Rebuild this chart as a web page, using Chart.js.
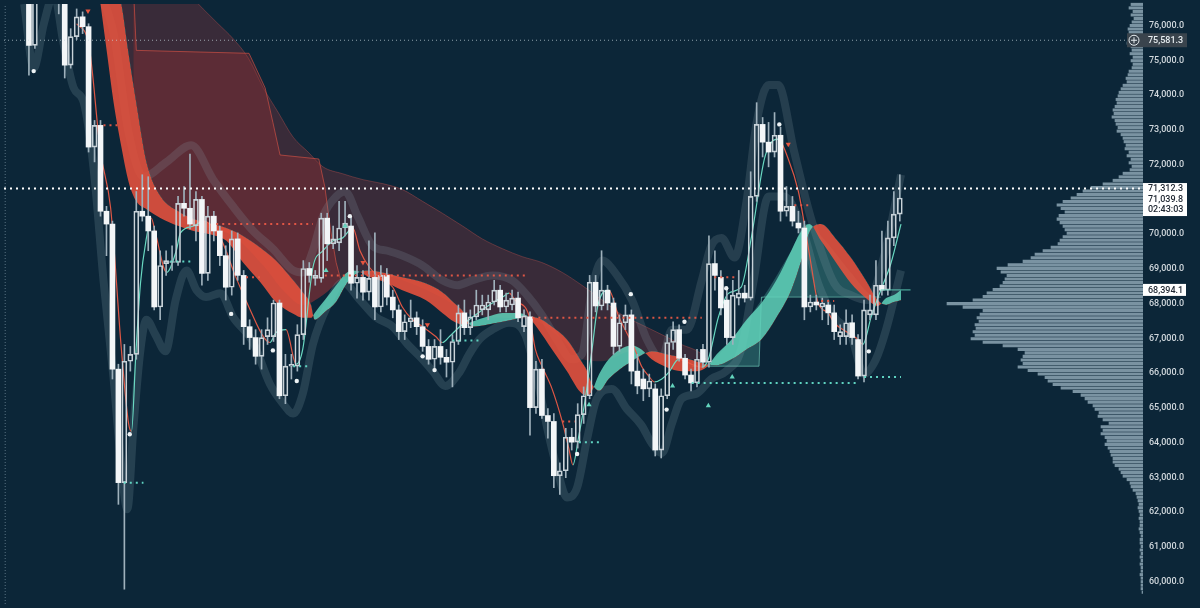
<!DOCTYPE html>
<html>
<head>
<meta charset="utf-8">
<script src="https://cdn.jsdelivr.net/npm/chart.js@4.4.1/dist/chart.umd.min.js"></script>
<style>
  html, body { margin: 0; padding: 0; background: #0c2638; }
  #wrap { position: relative; width: 1200px; height: 608px; overflow: hidden; }
  canvas { position: absolute; left: 0; top: 0; }
</style>
</head>
<body>
<div id="wrap">
  <canvas id="profile" width="1200" height="608"></canvas>
  <canvas id="chart" width="1200" height="608"></canvas>
</div>
<script>
// Visible window (candle index / price)
const X_MIN = -4.18, X_MAX = 186.77;
const Y_MIN = 59352, Y_MAX = 76625;
const priceTicks = [60000,61000,62000,63000,64000,65000,66000,67000,68000,69000,70000,71000,72000,73000,74000,75000,76000];

// Candles, one per bar index 0..146
const candleOpen = [77477,75432,77193,77761,77477,77051,76767,74864,75687,76256,75972,72506,73131,70659,70290,66113,62846,66341,66539,70659,70517,70091,67903,69153,69182,69182,70886,70744,70233,70999,68869,70517,70091,69380,68471,69863,68812,67335,67022,66482,67050,67050,68017,65346,66198,66198,67108,69011,68727,68727,70460,69721,69750,70176,70233,68585,68755,68329,68755,67903,68812,68187,67818,67193,67477,67591,67335,66767,66397,66767,66454,66312,66909,67733,67307,67619,67818,67818,68045,68386,67903,67960,68159,67335,67619,65005,66113,64778,64607,63045,63187,64153,64011,64806,65346,68614,67932,68386,68017,66767,67449,67676,66056,65829,65545,65545,63784,65346,66880,67250,66426,65943,65716,66681,66312,69153,68755,68102,67022,68159,68301,68159,71085,73159,72648,72363,72846,70659,70801,70318,70176,67903,68045,67903,67960,67733,67050,67050,67449,66965,65914,67676,67676,68528,68386,69892,70574];
const candleHigh = [77761,77477,78330,78614,78046,77477,77051,75915,76483,76398,76057,73273,73273,70801,70375,66255,66824,66767,71227,71710,71653,70233,69522,69522,69665,71085,71369,72307,71227,71085,70801,70659,70233,69665,70091,70034,68954,67534,67250,67250,67591,68102,68102,66539,66539,67392,69238,69182,68954,70602,70602,70233,70943,70943,70517,69096,68954,69807,70034,69096,69011,68386,67960,67676,68102,67761,67534,66965,66965,67250,66681,67108,67960,68102,67818,68386,68244,68244,68670,68528,68301,68386,68329,67818,67761,66341,66397,64977,64835,63414,64409,64409,65119,65602,68812,68812,69522,68528,68159,67676,67960,67818,66539,66113,65971,65687,65545,67108,67477,67392,66539,66113,66681,66824,69949,69522,68954,68386,68670,68954,68528,71795,73784,73358,73216,73500,73074,71369,71085,70659,70375,68244,68244,68159,68102,67960,67392,67818,67676,67108,68102,68244,69238,70091,70375,71227,71710];
const candleLow = [74579,75347,76767,77051,76767,76341,74494,74778,75602,75773,72363,72079,70517,69380,65829,62221,59778,66056,66397,70375,69522,67818,67534,68812,68954,69096,70517,70148,69807,68528,68670,69807,69096,68102,68244,68670,66824,66681,66255,66113,66824,66909,65261,65119,65829,66056,66965,68614,68528,68614,69238,69579,69522,69949,68386,68159,68102,68102,67534,67761,67960,67591,66965,66965,67307,67108,66625,66255,66113,66255,65886,65602,66824,67108,67108,67534,67676,67534,67960,67761,67761,67818,67477,67193,64210,64835,64693,64125,62704,62505,62988,63784,63841,64551,65261,67761,67818,67818,66539,66625,67250,65687,65403,65204,65318,63613,63556,65261,66681,66341,65829,65488,65602,66170,66170,68386,67676,66824,66824,67960,68045,68102,70943,72221,71937,72221,70375,70517,70233,70034,67534,67761,67818,67534,67392,66965,66824,66824,66824,65829,65744,67534,67534,68244,68244,69665,70375];
const candleClose = [75432,77193,77761,77477,77051,76767,74864,75687,76256,75972,72506,73131,70659,70290,66113,62846,66341,66539,70659,70517,70091,67903,69096,69238,69210,70886,70744,70290,70999,68869,70517,70091,69380,68471,69863,68812,67335,67022,66482,67022,67250,68017,65346,66198,66255,67108,69011,68812,68812,70460,69721,69863,70176,70318,68585,68755,68329,68727,67903,68812,68187,67818,67193,67477,67591,67335,66767,66397,66767,66454,66312,66909,67733,67307,67619,67960,67960,68045,68386,67903,68102,68159,67591,67648,65005,66113,64778,64607,63045,63187,64153,64011,64806,65346,68614,67932,68386,68017,66767,67449,67676,66056,65630,65545,65772,63784,65346,66880,67250,66426,65943,65716,66397,66312,69153,68812,67875,67022,68244,68301,68159,71085,73159,72648,72363,72846,70659,70801,70375,70176,67903,68045,67960,68017,67733,67193,67193,67449,67022,65914,67818,67818,68528,68386,69892,70574,71039.8];

// Fast / slow moving-average ribbon
const ribbonX = [10.9,12.0,13.2,14.2,15.5,16.7,18.0,19.7,22.1,25.1,27.6,30.1,33.1,35.9,38.8,41.4,44.3,45.9,47.3,47.9,49.6,51.5,53.1,54.3,55.3,56.8,59.3,62.6,66.5,69.3,71.3,73.0,74.3,76.8,79.4,81.9,83.5,85.2,87.7,90.2,92.4,93.6,94.4,95.6,97.2,99.1,101.1,102.7,104.4,106.9,109.4,111.9,113.6,115.3,117.8,120.3,122.8,125.3,127.8,129.5,130.8,132.8,135.3,137.8,140.3,142.3,143.7,145.0,146.2];
const ribbonFast = [78046,76625,75062,73784,72506,71511,70943,70716,70460,70233,70091,70006,69807,69182,68614,68045,67705,67591,67591,67733,68102,68528,68869,68954,68926,68784,68642,68386,68102,67733,67477,67392,67477,67619,67733,67733,67648,67307,66681,66056,65460,65346,65488,65971,66397,66681,66795,66681,66397,66170,66056,66056,66170,66539,66965,67534,68017,68670,69522,70091,70290,69807,69182,68585,68159,67932,68159,68250,68394.1];
const ribbonSlow = [80887,79466,78330,77477,76625,75205,73784,72079,71085,70659,70432,70318,70176,69949,69608,69238,68670,68329,67960,67534,67761,68045,68528,68784,68898,68954,68898,68755,68585,68329,68017,67733,67335,67392,67477,67562,67619,67591,67335,66965,66397,66056,65687,65488,65829,66113,66341,66511,66625,66539,66454,66341,66255,66227,66397,66681,66965,67591,68386,69238,70034,70290,69863,69324,68670,68102,67960,68045,68100];

// Thin trailing line that follows price
const trailX = [8.0,10.0,12.0,13.7,15.5,16.7,17.2,17.9,18.7,19.7,20.5,21.2,23.1,24.7,25.4,27.6,29.2,32.1,34.7,37.1,39.3,40.4,41.4,43.1,44.8,45.9,47.6,49.3,51.0,52.6,54.3,55.5,57.1,58.8,61.0,62.6,64.3,66.0,68.2,69.3,70.5,72.2,73.8,76.0,77.7,79.4,80.5,81.5,83.9,84.9,86.0,87.7,89.4,90.5,91.2,92.2,93.2,94.4,95.4,97.2,98.9,101.6,102.7,103.9,104.9,106.1,107.3,108.9,111.1,112.8,113.9,115.6,117.3,119.4,121.1,123.3,124.5,125.6,127.3,129.0,130.0,131.1,132.3,134.0,135.0,137.3,139.0,139.8,141.2,142.8,144.5,146.2];
const trailY = [76057,75489,72363,70744,66681,64551,64324,66482,68585,69892,70460,70034,68898,69522,70034,70233,70375,69892,68755,67818,67051,66880,67164,67250,66255,66681,69039,69522,69807,69892,70176,69522,69039,68755,68471,67903,67534,67335,67051,66880,67051,67335,67534,67818,68017,68187,68301,68102,67619,66681,66198,65545,64608,63841,63358,64210,65176,66681,67960,68386,67619,66681,66198,65914,65744,65829,66028,66397,66255,66170,66397,67619,68301,68471,69892,72164,72648,72733,72164,71227,70290,69153,68017,67733,67449,67164,66965,66824,67619,68386,69153,70290];

// Long-term red cloud
const cloudTopX = [14.2,27.6,29.2,31.7,34.2,36.8,39.3,41.8,44.3,46.8,49.3,52.6,56.0,59.3,62.6,66.0,69.3,72.7,76.0,79.4,82.7,86.0,89.4,92.7,96.1,99.4,102.7,106.1,109.4,112.8,114.1];
const cloudTop = [78898,76767,76483,76057,75631,75062,74210,73500,72790,72363,71937,71738,71568,71454,71284,70943,70602,70233,69863,69579,69352,69182,68898,68528,68102,67676,67392,67108,66824,66539,66255];
const cloudBaseX = [14.2,15.5,16.7,18.0,19.7,22.1,25.1,29.2,34.2,39.3,42.6,45.9,49.3,52.6,56.0,62.6,69.3,74.3,79.4,84.4,89.4,92.7,96.1,101.1,106.1,111.1,114.1];
const cloudBase = [77477,76625,75205,73784,72079,71085,70659,70233,69949,69096,68386,67960,68244,68727,68954,68670,68159,67676,67591,67534,66965,66397,66341,66625,66539,66397,66255];
const stepX = [17.5,18.0,36.9,39.6,40.9,42.1,48.6,49.6,50.6,51.5,52.3];
const stepLevel = [77193,75290,75205,74210,73216,72278,72164,71369,70091,69182,68670];

// Teal support zone on the right
const tealTopX = [111.1,113.6,117.8,122.8,127.8,130.3,132.8,137.8,141.2,142.8];
const tealTop = [66198,66255,66965,68102,69522,70290,69949,68898,68244,68187];
const tealBaseX = [111.1,122.4,122.8,142.8];
const tealBase = [66198,66198,68187,68187];

// Envelope bands around price
const upperX = [0,10.9,14.2,16.7,19.2,23.1,27.2,30.9,34.2,37.6,40.9,44.3,45.9,47.6,49.3,51.5,53.0,55.1,57.6,60.1,62.6,66.0,69.3,71.8,74.3,77.7,81.0,83.5,86.0,88.5,91.0,92.7,94.4,96.1,98.6,101.1,103.6,106.1,107.8,110.3,112.8,114.4,116.1,118.3,120.3,122.0,124.0,125.6,128.3,131.1,135.0,137.8,140.7,143.3,146.2];
const upperBand = [78330,77193,75773,72932,71653,72079,72562,71568,70801,70091,69579,68954,68898,69522,70517,71085,71227,70517,69665,69522,69380,69096,68670,68528,68670,68812,68670,68244,67676,66965,66397,66539,68386,69238,68812,68102,66965,66397,67250,67250,68670,69665,69892,69324,70943,73216,74295,74295,72363,70460,68585,68244,68102,69324,71710];
const lowerX = [-0.8,0.8,2.5,4.2,5.8,7.5,9.2,10.9,12.5,14.2,15.5,16.5,17.5,18.7,19.7,21.2,22.9,24.6,26.4,28.1,29.7,32.1,34.2,37.6,40.4,42.6,44.3,45.9,47.6,50.1,52.6,55.5,58.1,61.0,63.5,65.5,67.7,69.8,72.2,73.8,75.5,77.7,80.5,83.2,85.2,86.9,88.5,90.2,91.9,93.6,95.2,97.7,100.2,102.7,104.4,106.1,107.8,109.4,111.9,114.4,116.9,119.4,121.5,124.0,126.6,129.5,132.3,135.0,137.8,140.0,142.0,143.7,146.2];
const lowerBand = [76625,74778,76057,76909,75489,74210,73784,71795,68670,65829,63272,62080,64409,66681,67534,67108,66625,68102,68954,68386,68187,68301,67619,66880,65687,65119,64835,65403,66824,67960,68614,68102,67619,67335,66824,66482,66056,65630,66028,66539,66965,67250,67449,67108,65829,64409,63272,62420,62704,64125,65261,65545,64977,64494,63983,63699,64551,65261,65403,65829,66056,66681,68670,71085,71085,70233,68585,67619,67108,65971,66397,67250,68954];

// Dotted levels
const redLevel = [73131,70290,68812,67591,68755,64608,68755,70829,68074];
const redFrom = [12.5,31.4,49.6,84.4,36.4,89.4,114.9,128.3,132.8];
const redTo = [15.5,47.6,83.2,112.8,39.3,91.5,118.9,131.1,135.0];
const tealLevel = [62846,69210,66198,66937,64011,65716,65886];
const tealFrom = [15.9,23.7,44.3,71.0,92.2,111.1,140.0];
const tealTo = [19.2,27.1,47.1,75.5,95.6,139.0,146.2];

// Pivot markers
const whiteDotX = [0.8,16.9,33.9,40.9,44.9,53.8,66.0,68.0,91.9,100.9,106.9,109.9,116.9,125.8,140.8];
const whiteDotY = [74693,64238,67704,66653,65772,70517,66482,66085,63670,68272,64949,67477,68443,73159,66625];
const tealTriX = [49.8,53.0,93.9,107.9,113.9,117.9];
const tealTriY = [68954,70233,65090,65630,65062,65886];
const redMarkX = [9.9,56.0,66.8,127.3];
const redMarkY = [76426,69182,67392,72591];

// Price tags on the axis
const alertLevel = 75581.3;
const lastPrice = 71312.3;
const closePrice = 71039.8;
const countdown = '02:43:03';
const maLevel = 68394.1;

// Volume profile, one bin per 100 from 76,500 down
const profileVol = [12,14,10,12,9,11,13,15,14,12,15,16,12,11,13,10,12,10,11,14,15,17,16,20,22,24,25,27,26,28,30,29,31,28,27,25,26,22,20,19,17,18,14,16,12,14,11,13,20,24,30,40,52,60,66,72,80,86,82,78,84,86,83,80,78,76,80,83,85,92,100,108,112,120,135,146,142,136,138,140,143,150,156,160,170,196,180,160,163,166,164,168,167,170,168,172,160,140,125,118,120,122,120,125,115,105,98,95,90,82,70,62,58,55,50,48,44,45,40,34,42,40,42,38,36,38,35,33,32,30,30,28,24,22,20,16,13,12,10,7,6,5,4,5,4,3,4,3,3,4,3,2,3,3,2,3,2,3,2,3,2,2,3,2,2,2,2,1];
const profileTop = 76500, profileStep = 100;

let fmt = v => v.toLocaleString('en-US', {minimumFractionDigits: 1, maximumFractionDigits: 1});
let pts = (xs, ys) => xs.map((x, i) => ({x: x, y: ys[i]}));

// Candles split into wicks and bodies
let wickLow = [], wickHigh = [], bodyUp = [], bodyDown = [];
candleOpen.forEach((o, i) => {
  let c = candleClose[i];
  let top = Math.max(o, c), bot = Math.min(o, c);
  wickLow.push({x: i, y: [candleLow[i], bot]});
  wickHigh.push({x: i, y: [top, candleHigh[i]]});
  if (c >= o) {
    bodyUp.push({x: i, y: [o, c]});
  } else {
    bodyDown.push({x: i, y: [c, o]});
  }
});

let dotted = (level, from, to, color, width, dash, order) => ({
  type: 'line', data: [{x: from, y: level}, {x: to, y: level}],
  borderColor: color, borderWidth: width, borderDash: dash, pointRadius: 0, order: order
});

let datasets = [
  {type: 'line', data: pts(cloudTopX, cloudTop), borderColor: 'rgba(214,86,80,0.35)', borderWidth: 1,
   fill: {target: 1}, backgroundColor: 'rgba(150,55,62,0.33)', cubicInterpolationMode: 'monotone', order: 100},
  {type: 'line', data: pts(cloudBaseX, cloudBase), borderWidth: 0, borderColor: 'rgba(0,0,0,0)',
   cubicInterpolationMode: 'monotone', order: 99},
  {type: 'line', data: pts(stepX, stepLevel), borderColor: 'rgba(225,85,70,0.6)', borderWidth: 1,
   fill: {target: 1}, backgroundColor: 'rgba(160,50,50,0.35)', tension: 0, order: 98},
  {type: 'line', data: pts(tealTopX, tealTop), borderWidth: 0, borderColor: 'rgba(0,0,0,0)',
   fill: {target: 4}, backgroundColor: 'rgba(95,205,185,0.28)', cubicInterpolationMode: 'monotone', order: 97},
  {type: 'line', data: pts(tealBaseX, tealBase), borderColor: 'rgba(120,215,195,0.6)', borderWidth: 1, tension: 0, order: 96},
  {type: 'line', data: pts(upperX, upperBand), borderColor: 'rgba(140,160,172,0.2)', borderWidth: 8,
   cubicInterpolationMode: 'monotone', order: 90},
  {type: 'line', data: pts(lowerX, lowerBand), borderColor: 'rgba(140,170,180,0.2)', borderWidth: 8,
   cubicInterpolationMode: 'monotone', order: 89},
  {type: 'line', data: pts(ribbonX, ribbonFast), borderWidth: 0, borderColor: 'rgba(0,0,0,0)',
   fill: {target: 8, above: 'rgba(96,210,186,0.85)', below: 'rgba(232,82,62,0.88)'},
   cubicInterpolationMode: 'monotone', order: 80},
  {type: 'line', data: pts(ribbonX, ribbonSlow), borderWidth: 0, borderColor: 'rgba(0,0,0,0)',
   cubicInterpolationMode: 'monotone', order: 79},
  {type: 'bar', data: wickLow, backgroundColor: '#9fb1bc', barThickness: 1, grouped: false, order: 12},
  {type: 'bar', data: wickHigh, backgroundColor: '#9fb1bc', barThickness: 1, grouped: false, order: 11},
  {type: 'bar', data: bodyUp, backgroundColor: 'rgba(0,0,0,0)', borderColor: '#c9d3d9', borderWidth: 1,
   borderSkipped: false, barThickness: 5, minBarLength: 1, grouped: false, order: 10},
  {type: 'bar', data: bodyDown, backgroundColor: '#f3f6f8', borderWidth: 0, barThickness: 5,
   minBarLength: 1, grouped: false, order: 9},
  {type: 'line', data: pts(trailX, trailY), borderWidth: 1.2, cubicInterpolationMode: 'monotone',
   segment: {borderColor: c => c.p1.parsed.y >= c.p0.parsed.y ? 'rgba(110,225,200,0.95)' : 'rgba(235,90,70,0.95)'},
   order: 13},
  dotted(alertLevel, X_MIN, 184.3, 'rgba(200,215,222,0.7)', 1, [1, 3], 6),
  dotted(lastPrice, X_MIN, X_MAX, '#ffffff', 2, [2, 4], 5),
  dotted(maLevel, 142.8, 147.8, 'rgba(96,210,186,0.9)', 1, [], 5),
  {type: 'line', data: [{x: X_MIN + 0.2, y: Y_MIN}, {x: X_MIN + 0.2, y: Y_MAX}],
   borderColor: 'rgba(140,165,180,0.6)', borderWidth: 1, borderDash: [1, 2], pointRadius: 0, order: 5},
  {type: 'scatter', data: pts(whiteDotX, whiteDotY), pointRadius: 2.2, backgroundColor: '#eef3f5', borderWidth: 0, order: 2},
  {type: 'scatter', data: pts(tealTriX, tealTriY), pointStyle: 'triangle', pointRadius: 3,
   backgroundColor: '#63d4bd', borderWidth: 0, order: 2},
  {type: 'scatter', data: pts(redMarkX, redMarkY), pointStyle: 'triangle', rotation: 180, pointRadius: 3,
   backgroundColor: '#e5553f', borderWidth: 0, order: 2}
];

redLevel.forEach((lv, i) => datasets.push(dotted(lv, redFrom[i], redTo[i], 'rgba(232,88,70,0.95)', 2, [2, 4], 4)));
tealLevel.forEach((lv, i) => datasets.push(dotted(lv, tealFrom[i], tealTo[i], 'rgba(100,220,200,0.95)', 2, [2, 4], 4)));

// Price tags and the alert icon on the right axis
let priceTags = {
  id: 'priceTags',
  afterDraw(chart) {
    let ctx = chart.ctx;
    let y = chart.scales.y;
    let left = y.left;
    ctx.save();
    ctx.font = '500 9px Roboto';
    ctx.textBaseline = 'middle';
    ctx.textAlign = 'left';

    let ya = y.getPixelForValue(alertLevel);
    ctx.fillStyle = '#3a444d';
    ctx.fillRect(left - 16, ya - 7, 60, 14);
    ctx.fillStyle = '#e8eef1';
    ctx.fillText(fmt(alertLevel), left + 5, ya + 0.5);
    ctx.strokeStyle = '#e8eef1';
    ctx.lineWidth = 1;
    ctx.beginPath();
    ctx.arc(left - 9, ya, 5, 0, Math.PI * 2);
    ctx.moveTo(left - 12, ya);
    ctx.lineTo(left - 6, ya);
    ctx.moveTo(left - 9, ya - 3);
    ctx.lineTo(left - 9, ya + 3);
    ctx.stroke();

    let yl = y.getPixelForValue(lastPrice);
    ctx.fillStyle = '#ffffff';
    ctx.fillRect(left, yl - 5.5, 44, 33);
    ctx.fillStyle = '#1d2530';
    ctx.fillText(fmt(lastPrice), left + 5, yl + 0.5);
    ctx.fillText(fmt(closePrice), left + 5, yl + 11);
    ctx.fillText(countdown, left + 5, yl + 21.5);

    let ym = y.getPixelForValue(maLevel);
    ctx.fillStyle = '#ffffff';
    ctx.fillRect(left, ym - 6, 43, 12);
    ctx.fillStyle = '#1d2530';
    ctx.fillText(fmt(maLevel), left + 5, ym + 0.5);
    ctx.restore();
  }
};

new Chart(document.getElementById('profile'), {
  type: 'bar',
  data: {
    datasets: [{
      data: profileVol.map((v, i) => ({x: v, y: profileTop - profileStep * i})),
      backgroundColor: 'rgba(190,215,227,0.62)',
      barThickness: 2.4,
      grouped: false
    }]
  },
  options: {
    indexAxis: 'y',
    responsive: false,
    animation: false,
    devicePixelRatio: 1,
    layout: {padding: {left: 0, top: 0, bottom: 0, right: 57}},
    plugins: {legend: {display: false}, tooltip: {enabled: false}},
    scales: {
      y: {type: 'linear', min: Y_MIN, max: Y_MAX, offset: false, display: false},
      x: {type: 'linear', min: 0, max: 1143, reverse: true, display: false}
    }
  }
});

new Chart(document.getElementById('chart'), {
  type: 'line',
  data: {datasets: datasets},
  options: {
    responsive: false,
    animation: false,
    devicePixelRatio: 1,
    layout: {padding: 0},
    elements: {point: {radius: 0}, line: {fill: false}},
    plugins: {legend: {display: false}, tooltip: {enabled: false}},
    scales: {
      x: {type: 'linear', min: X_MIN, max: X_MAX, offset: false, display: false},
      y: {
        type: 'linear', position: 'right', min: Y_MIN, max: Y_MAX,
        grid: {display: false, drawTicks: false},
        border: {display: false},
        ticks: {
          padding: 6, color: '#d1d8dd',
          font: {family: 'Roboto', size: 9, weight: '500'},
          callback: v => fmt(v)
        },
        afterBuildTicks: s => { s.ticks = priceTicks.map(v => ({value: v})); },
        afterFit: s => { s.width = 57; s.paddingTop = 0; s.paddingBottom = 0; }
      }
    }
  },
  plugins: [priceTags]
});
</script>
</body>
</html>
